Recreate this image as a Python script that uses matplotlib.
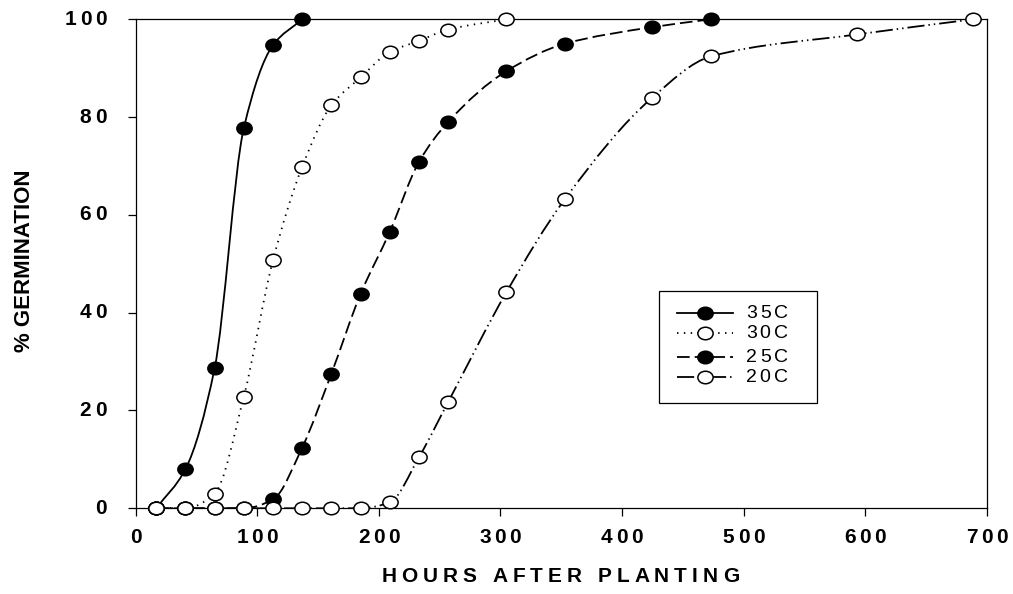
import matplotlib
matplotlib.use("Agg")
import numpy as np
import matplotlib.pyplot as plt
from matplotlib.path import Path
from matplotlib.patches import PathPatch, Rectangle
from matplotlib.lines import Line2D
from matplotlib.markers import MarkerStyle
from matplotlib.font_manager import FontProperties
from matplotlib.textpath import TextToPath
from matplotlib.transforms import offset_copy, blended_transform_factory

# germination counts, % of seeds, read at each sampling time (hours)
hours_35 = [17, 41, 65, 89, 113, 137]
germ_35 = [0, 8.0, 28.6, 77.7, 94.7, 100]

hours_30 = [17, 41, 65, 89, 113, 137, 161, 185, 209, 233, 257, 305]
germ_30 = [0, 0, 3.0, 22.8, 50.7, 69.8, 82.4, 88.1, 93.3, 95.6, 97.9, 100]

hours_25 = [17, 41, 65, 89, 113, 137, 161, 185, 209, 233, 257, 305, 353, 425, 473]
germ_25 = [0, 0, 0, 0, 1.8, 12.4, 27.5, 43.8, 56.5, 70.8, 79.0, 89.4, 95.0, 98.4, 100]

hours_20 = [17, 41, 65, 89, 113, 137, 161, 185, 209, 233, 257, 305, 353, 425, 473, 593, 689]
germ_20 = [0, 0, 0, 0, 0, 0, 0, 0, 1.2, 10.4, 21.7, 44.2, 63.2, 84.0, 92.4, 96.9, 100]

labels = ["35C", "30C", "25C", "20C"]
x_ticks = [0, 100, 200, 300, 400, 500, 600, 700]
y_ticks = [0, 20, 40, 60, 80, 100]

LW = 1.3
styles = [
    dict(ls="-", face="black"),
    dict(ls=(0, (0.8, 3.0)), face="white"),
    dict(ls=(0, (7.0, 2.8)), face="black"),
    dict(ls=(0, (9.5, 2.2, 0.8, 2.2, 0.8, 2.2)), face="white"),
]

ttp = TextToPath()


def advance(ch, prop):
    # advance width of one character, in points
    w1 = ttp.get_text_width_height_descent("|" + ch + "|", prop, ismath=False)[0]
    w0 = ttp.get_text_width_height_descent("||", prop, ismath=False)[0]
    return w1 - w0


def spaced_text(fig, x, y, s, transform, prop, track, ha="center", va="baseline", dx=0.0, dy=0.0):
    adv = [advance(c, prop) for c in s]
    total = sum(adv) + track * (len(s) - 1)
    start = {"left": 0.0, "center": -total / 2, "right": -total}[ha] + dx
    pos = start
    for c, a in zip(s, adv):
        if c != " ":
            tr = offset_copy(transform, fig=fig, x=pos, y=dy, units="points")
            fig.text(x, y, c, transform=tr, ha="left", va=va, fontproperties=prop)
        pos += a + track


def smooth_path(x, y):
    # monotone cubic through the points, as bezier segments
    x = np.asarray(x, float)
    y = np.asarray(y, float)
    h = np.diff(x)
    d = np.diff(y) / h
    m = np.zeros_like(x)
    m[0] = d[0]
    m[-1] = d[-1]
    for i in range(1, len(x) - 1):
        if d[i - 1] * d[i] <= 0:
            m[i] = 0.0
        else:
            w1 = 2 * h[i] + h[i - 1]
            w2 = h[i] + 2 * h[i - 1]
            m[i] = (w1 + w2) / (w1 / d[i - 1] + w2 / d[i])
    verts = [(x[0], y[0])]
    codes = [Path.MOVETO]
    for i in range(len(x) - 1):
        verts += [(x[i] + h[i] / 3, y[i] + m[i] * h[i] / 3),
                  (x[i + 1] - h[i] / 3, y[i + 1] - m[i + 1] * h[i] / 3),
                  (x[i + 1], y[i + 1])]
        codes += [Path.CURVE4] * 3
    return Path(verts, codes)


circle = Path.unit_circle()
ellipse = MarkerStyle(Path(circle.vertices * [1.0, 0.82], circle.codes))

fig = plt.figure(figsize=(10.13, 5.94), dpi=100)
ax = fig.add_axes([0.1338, 0.1443, 0.8403, 0.8232])
ax.set_xlim(0, 700)
ax.set_ylim(0, 100)

series = [(hours_35, germ_35), (hours_30, germ_30), (hours_25, germ_25), (hours_20, germ_20)]
for k, ((xx, yy), st) in enumerate(zip(series, styles)):
    patch = PathPatch(smooth_path(xx, yy), fill=False, edgecolor="black", lw=LW,
                      linestyle=st["ls"], zorder=2, capstyle="butt")
    ax.add_patch(patch)
    ax.plot(xx, yy, ls="none", marker=ellipse, ms=11, mfc=st["face"], mec="black",
            mew=1.1, zorder=3 + k * 0.1, clip_on=False)

for sp in ax.spines.values():
    sp.set_linewidth(0.9)
ax.set_xticks(x_ticks)
ax.set_yticks(y_ticks)
ax.tick_params(direction="out", length=6, width=0.9, labelbottom=False, labelleft=False)

tick_prop = FontProperties(family="Liberation Sans", weight="bold", size=15)
xt = blended_transform_factory(ax.transData, ax.transAxes)
for v in x_ticks:
    spaced_text(fig, v, 0, str(v), xt, tick_prop, 2.5, ha="center", va="top", dy=-14)
yt = blended_transform_factory(ax.transAxes, ax.transData)
for v in y_ticks:
    spaced_text(fig, 0, v, str(v), yt, tick_prop, 2.5, ha="right", va="center", dx=-21)

label_prop = FontProperties(family="Liberation Sans", weight="bold", size=15)
spaced_text(fig, 560 / 1013, 1 - 577 / 594, "HOURS AFTER PLANTING", fig.transFigure,
            label_prop, 3.6, ha="center", va="center")
fig.text(24 / 1013, 1 - 261 / 594, "% GERMINATION", rotation=90, ha="center", va="center",
         fontproperties=FontProperties(family="Liberation Sans", weight="bold", size=16))

# legend box
ax.add_patch(Rectangle((0.615, 0.215), 0.185, 0.229, transform=ax.transAxes,
                       facecolor="white", edgecolor="black", lw=0.9, zorder=5))
leg_prop = FontProperties(family="Liberation Sans", size=14)
leg_y = [0.399, 0.358, 0.309, 0.268]
for lab, st, yy in zip(labels, styles, leg_y):
    ax.add_line(Line2D([0.636, 0.702], [yy, yy], transform=ax.transAxes, color="black",
                       lw=LW, ls=st["ls"], zorder=6))
    ax.add_line(Line2D([0.669], [yy], transform=ax.transAxes, ls="none", marker=ellipse,
                       ms=11, mfc=st["face"], mec="black", mew=1.1, zorder=7))
    spaced_text(fig, 0.717, yy, lab, ax.transAxes, leg_prop, 2.2, ha="left", va="center")

fig.savefig("out.png", dpi=100)
